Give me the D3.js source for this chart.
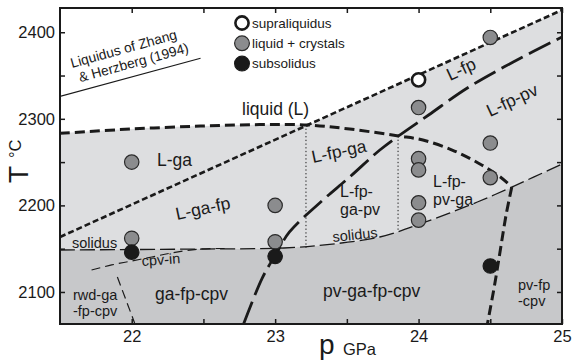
<!DOCTYPE html>
<html>
<head>
<meta charset="utf-8">
<script src="https://cdn.jsdelivr.net/npm/d3@7"></script>
<style>
    body { margin: 0; background: #fff; }
    text { font-family: 'Liberation Sans', Arial, Helvetica, sans-serif; fill: #1a1a1a; }
</style>
</head>
<body>
<div id="chart"></div>
<script>
// pressure (GPa) / temperature (C) pairs
var supraliquidus = [[24, 2345]];
var liquidCrystals = [[22, 2250], [22, 2162], [23, 2200], [23, 2158],
    [24, 2313], [24, 2254], [24, 2241], [24, 2203], [24, 2183],
    [24.5, 2394], [24.5, 2272], [24.5, 2232]];
var subsolidus = [[22, 2146], [23, 2141], [24.5, 2130]];

// phase boundaries
var gaLiquidus = [[21.5, 2283.2], [21.99, 2288.2], [22.48, 2291.6], [22.89, 2293.3], [23.23, 2292.9],
    [23.52, 2288.2], [23.86, 2280.2], [24.03, 2275.5], [24.25, 2262.8], [24.44, 2246.7],
    [24.57, 2232.8], [24.65, 2221.2]];
var fpLine = [[21.5, 2163.5], [25, 2425.7]];
var pvIn = [[22.78, 2063], [22.91, 2116], [23.01, 2145], [23.10, 2169.3], [23.31, 2202.8],
    [23.52, 2232.8], [23.73, 2264], [23.86, 2280.2], [24.07, 2304.4], [24.34, 2335.6],
    [24.66, 2365.6], [25, 2394.5]];
var solidus = [[21.5, 2148.5], [22.48, 2149.6], [23.06, 2150.8], [23.38, 2155], [23.73, 2163.5],
    [24.03, 2179.7], [24.41, 2203.9], [24.65, 2221.2], [25, 2247.8]];
var gaOut = [[24.65, 2221.2], [24.61, 2188.9], [24.57, 2148.4], [24.53, 2108], [24.48, 2063]];
var cpvIn = [[21.72, 2125.4], [21.86, 2131.2], [22.0, 2135.8], [22.14, 2140.4], [22.28, 2145.1],
    [22.48, 2149.6], [22.65, 2150.2]];
var rwdOut = [[21.9, 2117.3], [22.02, 2064.2]];
var dotted = [[[23.215, 2292.9], [23.215, 2150.9]], [[23.857, 2280.2], [23.857, 2171.6]]];
var zhangLiquidus = [[21.5, 2326], [22.48, 2370]];

var xTicks = [22, 22.5, 23, 23.5, 24, 24.5, 25];
var yTicks = [2100, 2150, 2200, 2250, 2300, 2350, 2400];
var legendLabels = ['supraliquidus', 'liquid + crystals', 'subsolidus'];

var width = 572, height = 362;
var margin = {top: 8, right: 10, bottom: 38, left: 60};

var svg = d3.select('#chart').append('svg')
    .attr('width', width)
    .attr('height', height);

var x = d3.scaleLinear().domain([21.5, 25]).range([margin.left, width - margin.right]);
var y = d3.scaleLinear().domain([2063, 2428]).range([height - margin.bottom, margin.top]);

svg.append('clipPath').attr('id', 'plot')
    .append('rect')
    .attr('x', x(21.5)).attr('y', y(2428))
    .attr('width', x(25) - x(21.5)).attr('height', y(2063) - y(2428));

var g = svg.append('g').attr('clip-path', 'url(#plot)');

var smooth = d3.line().x(d => x(d[0])).y(d => y(d[1])).curve(d3.curveCatmullRom);
var straight = d3.line().x(d => x(d[0])).y(d => y(d[1]));

// light grey: liquid + crystals field
var upper = gaLiquidus.filter(d => d[0] <= 23.23);
var lightPath = smooth(upper) + 'L' + x(fpLine[1][0]) + ',' + y(fpLine[1][1]) +
    'L' + smooth(solidus.slice().reverse()).slice(1) + 'Z';
g.append('path').attr('d', lightPath).style('fill', '#dddee0');

// darker grey: subsolidus
var darkPath = smooth(solidus) + 'L' + x(25) + ',' + y(2063) + 'L' + x(21.5) + ',' + y(2063) + 'Z';
g.append('path').attr('d', darkPath).style('fill', '#c7c8ca');

function boundary(data, line, w, dash) {
    g.append('path')
        .attr('d', line(data))
        .attr('fill', 'none')
        .attr('stroke', '#1a1a1a')
        .attr('stroke-width', w)
        .attr('stroke-dasharray', dash);
}

dotted.forEach(d => boundary(d, straight, 1, '1.3,2.4'));
boundary(solidus, smooth, 1.3, '15,5');
boundary(cpvIn, smooth, 1.2, '9,5');
boundary(rwdOut, straight, 1.2, '9,5');
boundary(zhangLiquidus, straight, 1.2, null);
boundary(fpLine, straight, 2.6, '6,3');
boundary(gaLiquidus, smooth, 3, '10,5');
boundary(gaOut, smooth, 3, '10,5');
boundary(pvIn, smooth, 2.8, '24,7');

// experiments
var dotStyles = [
    {data: liquidCrystals, fill: '#8b8c8e', stroke: '#2a2a2a', sw: 1.2},
    {data: subsolidus, fill: '#1a1a1a', stroke: '#1a1a1a', sw: 1.2},
    {data: supraliquidus, fill: '#fff', stroke: '#1a1a1a', sw: 2.6}
];
dotStyles.forEach(s => {
    g.selectAll(null).data(s.data).enter().append('circle')
        .attr('cx', d => x(d[0]))
        .attr('cy', d => y(d[1]))
        .attr('r', s.sw > 2 ? 6.6 : 7.2)
        .style('fill', s.fill)
        .style('stroke', s.stroke)
        .style('stroke-width', s.sw);
});

// legend
var legendStyles = [dotStyles[2], dotStyles[0], dotStyles[1]];
var legend = svg.append('g').attr('transform', 'translate(242, 23)');
legendLabels.forEach((t, i) => {
    var s = legendStyles[i];
    legend.append('circle')
        .attr('cy', i * 20.3)
        .attr('r', s.sw > 2 ? 6.6 : 7.4)
        .style('fill', s.fill)
        .style('stroke', s.stroke)
        .style('stroke-width', s.sw);
    legend.append('text')
        .attr('x', 10)
        .attr('y', i * 20.3)
        .attr('dy', '0.36em')
        .attr('font-size', '13.5px')
        .text(t);
});

// field labels
function label(lines, px, py, size, angle, lh) {
    var t = svg.append('text')
        .attr('transform', `translate(${px}, ${py}) rotate(${angle || 0})`)
        .attr('font-size', size + 'px');
    lines.forEach((l, i) => {
        t.append('tspan').attr('x', 0).attr('y', i * (lh || 0)).text(l);
    });
    return t;
}

label(['liquid (L)'], 242, 115, 17.5);
label(['L-ga'], 157, 166, 17.5);
label(['L-ga-fp'], 177, 220, 17.5, -12);
label(['L-fp-ga'], 313, 163, 17.5, -12);
label(['L-fp-', 'ga-pv'], 340, 197, 16, 0, 17.5);
label(['L-fp-', 'pv-ga'], 433, 187, 16, 0, 17.5);
label(['L-fp'], 450, 81, 17.5, -25);
label(['L-fp-pv'], 490, 117, 17.5, -25);
label(['ga-fp-cpv'], 155, 300, 17.5);
label(['pv-ga-fp-cpv'], 323, 297, 17.5);
label(['solidus'], 72, 248, 14.5);
label(['solidus'], 333, 242, 14.5, -6);
label(['cpv-in'], 142, 266, 14.5, -4);
label(['rwd-ga', '-fp-cpv'], 73, 300, 14.5, 0, 15.5);
label(['pv-fp', '-cpv'], 518, 290, 14.5, 0, 15.5);

var zhang = label(['Liquidus of Zhang', '& Herzberg (1994)'], 72, 68, 13.8, -15.5, 0);
zhang.selectAll('tspan').filter((d, i) => i === 1)
    .attr('x', 4).attr('y', 16)
    .style('stroke', '#fff').style('stroke-width', 3).style('paint-order', 'stroke');

// axes
var xAxis = d3.axisBottom(x).tickValues(xTicks).tickSize(-5).tickPadding(6)
    .tickFormat(d => Number.isInteger(d) ? d : '');
var yAxis = d3.axisLeft(y).tickValues(yTicks).tickSize(-5).tickPadding(5)
    .tickFormat(d => d % 100 === 0 ? d : '');

function styleAxis(sel) {
    sel.select('.domain').remove();
    sel.selectAll('line').attr('stroke', '#1a1a1a').attr('stroke-width', 1.5);
    sel.selectAll('text').attr('font-size', '16.5px').attr('fill', '#1a1a1a')
        .style('font-family', "'Liberation Sans', Arial, sans-serif");
}

svg.append('g').attr('transform', `translate(0, ${y(2063)})`).call(xAxis).call(styleAxis);
svg.append('g').attr('transform', `translate(0, ${y(2428)})`)
    .call(d3.axisTop(x).tickValues(xTicks).tickSize(-5).tickFormat('')).call(styleAxis);
svg.append('g').attr('transform', `translate(${x(21.5)}, 0)`).call(yAxis).call(styleAxis);
svg.append('g').attr('transform', `translate(${x(25)}, 0)`)
    .call(d3.axisRight(y).tickValues(yTicks).tickSize(-5).tickFormat('')).call(styleAxis);

svg.append('rect')
    .attr('x', x(21.5)).attr('y', y(2428))
    .attr('width', x(25) - x(21.5)).attr('height', y(2063) - y(2428))
    .attr('fill', 'none')
    .attr('stroke', '#1a1a1a')
    .attr('stroke-width', 2);

// axis titles
svg.append('text').attr('transform', 'translate(28, 183) rotate(-90)')
    .attr('font-size', '28px').text('T');
svg.append('text').attr('transform', 'translate(21, 158) rotate(-90)')
    .attr('font-size', '16.5px').text('°C');
svg.append('text').attr('x', 319).attr('y', 354)
    .attr('font-size', '28px').text('p');
svg.append('text').attr('x', 343).attr('y', 355)
    .attr('font-size', '16.5px').text('GPa');
</script>
</body>
</html>
